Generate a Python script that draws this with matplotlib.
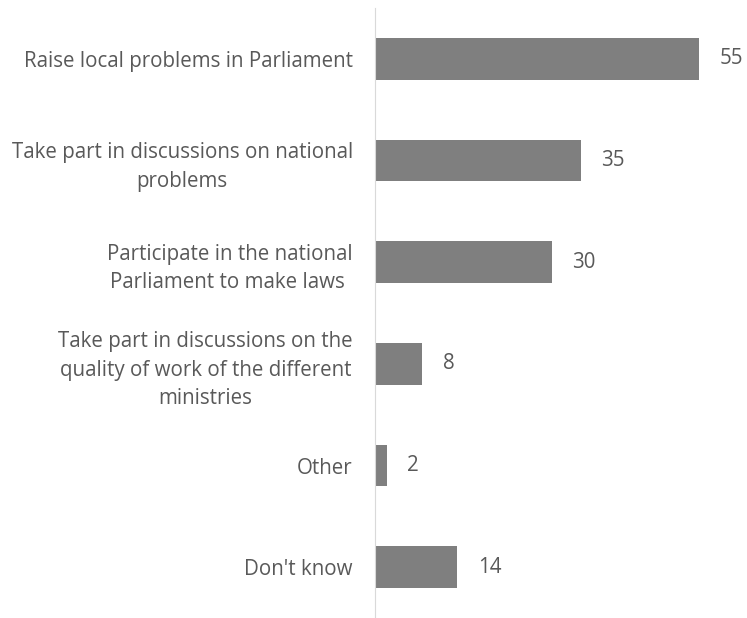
import numpy as np
import matplotlib.pyplot as plt

categories = [
    "Raise local problems in Parliament",
    "Take part in discussions on national\nproblems",
    "Participate in the national\nParliament to make laws ",
    "Take part in discussions on the\nquality of work of the different\nministries",
    "Other",
    "Don't know",
]
values = [55, 35, 30, 8, 2, 14]

plt.rcParams['font.family'] = ['Open Sans', 'DejaVu Sans']

fig = plt.figure(figsize=(7.47, 6.18), dpi=100)
ax = fig.add_axes([375 / 747, 0.0, (728 - 375) / 747, 610 / 618])

pos = np.arange(len(categories))
ax.barh(pos, values, height=0.41, color='#7f7f7f')
ax.set_ylim(len(categories) - 0.5, -0.5)
ax.set_xlim(0, 60)

for p, v in zip(pos, values):
    ax.text(v + 3.5, p, str(v), va='center', ha='left', fontsize=14.8, color='#595959')

ax.set_yticks(pos)
ax.set_yticklabels(categories, fontsize=14.8, color='#595959', ha='right',
                   multialignment='center', linespacing=1.48)
ax.tick_params(axis='y', length=0, pad=16)
ax.set_xticks([])
for s in ['top', 'right', 'bottom']:
    ax.spines[s].set_visible(False)
ax.spines['left'].set_color('#d9d9d9')

fig.savefig('out.png', dpi=100)
